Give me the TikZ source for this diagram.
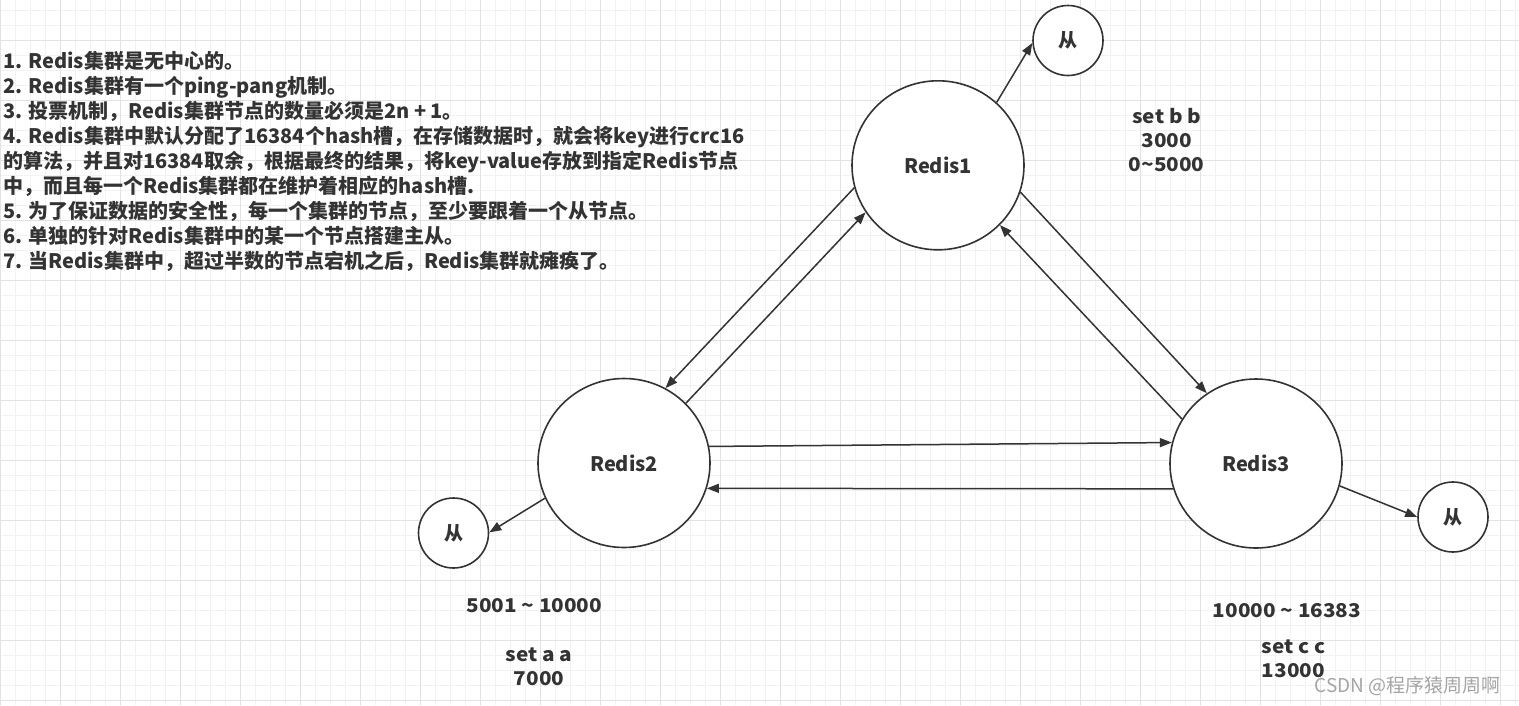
\documentclass[tikz,border=0pt]{standalone}
\usepackage{fontspec}
\setmainfont{Noto Sans CJK SC}
\newfontfamily\labfont{Noto Sans CJK SC}[FakeStretch=1.09]
\usetikzlibrary{arrows.meta,shapes.geometric}
\definecolor{ink}{HTML}{333333}
\definecolor{gridminor}{RGB}{242,242,242}
\definecolor{gridmajor}{RGB}{226,226,226}
\definecolor{wm}{RGB}{165,165,165}
\tikzset{
  master/.style={ellipse, draw=ink, line width=1.6pt, fill=white, minimum width=172pt, minimum height=169pt, inner sep=0pt, text=ink, font=\fontsize{20}{24}\selectfont\bfseries},
  slave/.style={circle, draw=ink, line width=1.6pt, fill=white, minimum size=70pt, inner sep=0pt, text=ink, font=\fontsize{19}{24}\selectfont\bfseries},
  arr/.style={draw=ink, line width=1.5pt, -{Triangle[length=12pt,width=9pt]}},
  lab/.style={text=ink, inner sep=0pt, font=\labfont\fontsize{19}{24}\selectfont\bfseries},
  txt/.style={text=ink, inner sep=0pt, anchor=base west, font=\fontsize{20}{25}\selectfont\bfseries},
}
\begin{document}
\begin{tikzpicture}[x=1pt,y=-1pt]
\useasboundingbox (0,0) rectangle (1519,705);
\fill[white] (0,0) rectangle (1519,705);
\foreach \x in {0,15,...,1515} \draw[gridminor,line width=1pt] (\x,0) -- (\x,705);
\foreach \y in {10,25,...,700} \draw[gridminor,line width=1pt] (0,\y) -- (1519,\y);
\foreach \x in {0,60,...,1500} \draw[gridmajor,line width=1pt] (\x,0) -- (\x,705);
\foreach \y in {40,100,...,700} \draw[gridmajor,line width=1pt] (0,\y) -- (1519,\y);

% text block
\node[txt] (t1) at (3,68.3) {1. Redis集群是无中心的。};
\node[txt] (t2) at (3,93.3) {2. Redis集群有一个ping-pang机制。};
\node[txt] (t3) at (3,118.3) {3. 投票机制，Redis集群节点的数量必须是2n + 1。};
\node[txt] (t4) at (3,143.3) {4. Redis集群中默认分配了16384个hash槽，在存储数据时，就会将key进行crc16};
\node[txt] (t5) at (3,168.3) {的算法，并且对16384取余，根据最终的结果，将key-value存放到指定Redis节点};
\node[txt] (t6) at (3,193.3) {中，而且每一个Redis集群都在维护着相应的hash槽.};
\node[txt] (t7) at (3,218.3) {5. 为了保证数据的安全性，每一个集群的节点，至少要跟着一个从节点。};
\node[txt] (t8) at (3,243.3) {6. 单独的针对Redis集群中的某一个节点搭建主从。};
\node[txt] (t9) at (3,268.3) {7. 当Redis集群中，超过半数的节点宕机之后，Redis集群就瘫痪了。};

% nodes
\node[master] (r1) at (938,165.3) {Redis1};
\node[master] (r2) at (624,463) {Redis2};
\node[master] (r3) at (1256,463.5) {Redis3};
\node[slave] (s1) at (1068,40.5) {从};
\node[slave] (s2) at (453.5,533) {从};
\node[slave] (s3) at (1453,517) {从};

% connectors
\draw[arr] (r1.195.8) -- (r2.61.6);
\draw[arr] (r2.44.7) -- (r1.213.9);
\draw[arr] (r2.11.8) -- (r3.166.6);
\draw[arr] (r3.197.6) -- (r2.343.2);
\draw[arr] (r1.342.8) -- (r3.125);
\draw[arr] (r3.149.8) -- (r1.316.9);
\draw[arr] (r1.47.7) -- (s1.184);
\draw[arr] (r2.204.2) -- (s2.1.6);
\draw[arr] (r3.345.6) -- (s3.180);

% labels
\node[lab, align=center] (l1) at (1166.7,140) {set b b\\3000\\0\textasciitilde5000};
\node[lab] (l2) at (534.3,605.7) {5001 \textasciitilde{} 10000};
\node[lab, align=center] (l3) at (539,666.7) {set a a\\7000};
\node[lab] (l4) at (1287,610.7) {10000 \textasciitilde{} 16383};
\node[lab, align=left, anchor=west] (l5) at (1261.7,658.3) {set c c\\13000};
\node[text=wm, inner sep=0pt, font=\fontsize{19}{19}\selectfont] (wmk) at (1407.5,686) {CSDN @程序猿周周啊};
\end{tikzpicture}
\end{document}
